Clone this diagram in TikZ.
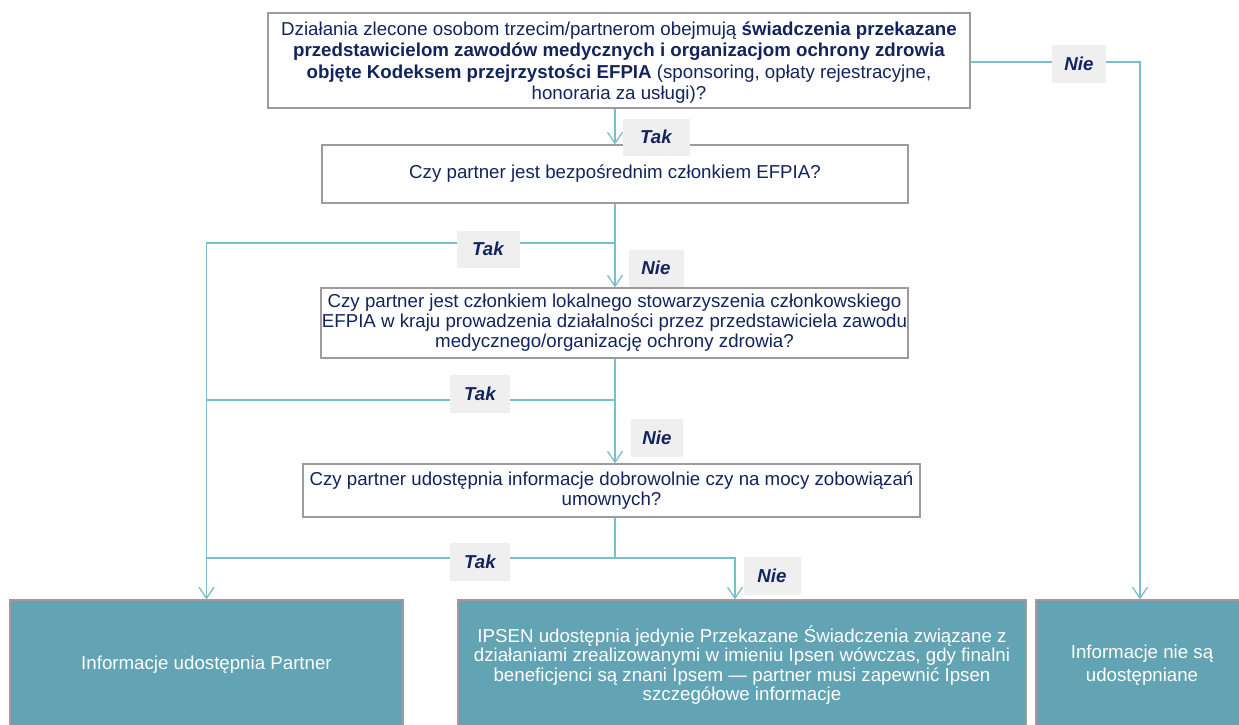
\documentclass[tikz,border=0pt]{standalone}
\usepackage{fontspec}
\setmainfont{Liberation Sans}
\usetikzlibrary{arrows.meta}
\definecolor{navy}{RGB}{18,36,94}
\definecolor{lnk}{RGB}{120,190,204}
\definecolor{bord}{RGB}{160,154,154}
\definecolor{teal}{RGB}{98,163,180}
\definecolor{lbl}{RGB}{239,239,239}
\begin{document}
\begin{tikzpicture}[x=1pt,y=-1pt,
  qbox/.style={draw=bord,line width=1.3pt,fill=white,text=navy,align=center,inner sep=0pt,font=\fontsize{18.7}{20}\selectfont},
  rbox/.style={draw=bord,line width=1.3pt,fill=teal,text=white,align=center,inner sep=0pt,font=\fontsize{18.7}{19.5}\selectfont},
  lab/.style={fill=lbl,text=navy,inner sep=0pt,font=\fontsize{18.7}{20}\selectfont\bfseries\itshape},
  link/.style={draw=lnk,line width=1.5pt},
  arr/.style={link,-{Straight Barb[length=11pt,width=15pt,line width=1.3pt]}}]
\useasboundingbox (0,0) rectangle (1239,724);
% question boxes
\node[qbox,minimum width=702,minimum height=95,font=\fontsize{18.7}{21.5}\selectfont,text depth=0pt] (b1) at (619,60.5)
 {Działania zlecone osobom trzecim/partnerom obejmują \textbf{świadczenia przekazane}\\
  \textbf{przedstawicielom zawodów medycznych i organizacjom ochrony zdrowia}\\
  \textbf{objęte Kodeksem przejrzystości EFPIA} (sponsoring, opłaty rejestracyjne,\\
  honoraria za usługi)?};
\node[qbox,minimum width=586,minimum height=58] (b2) at (615,174)
 {Czy partner jest bezpośrednim członkiem EFPIA?};
\node[qbox,minimum width=587,minimum height=70] (b3) at (614.5,323)
 {Czy partner jest członkiem lokalnego stowarzyszenia członkowskiego\\
  EFPIA w kraju prowadzenia działalności przez przedstawiciela zawodu\\
  medycznego/organizację ochrony zdrowia?};
\node[qbox,minimum width=617,minimum height=53] (b4) at (611.5,490.5)
 {Czy partner udostępnia informacje dobrowolnie czy na mocy zobowiązań\\
  umownych?};
% result boxes
\node[rbox,minimum width=393,minimum height=130] (b5) at (206.5,665)
 {Informacje udostępnia Partner};
\node[rbox,minimum width=568,minimum height=130] (b6) at (742,665)
 {IPSEN udostępnia jedynie Przekazane Świadczenia związane z\\
  działaniami zrealizowanymi w imieniu Ipsen wówczas, gdy finalni\\
  beneficjenci są znani Ipsem — partner musi zapewnić Ipsen\\
  szczegółowe informacje};
\node[rbox,minimum width=212,minimum height=130,font=\fontsize{18.7}{22.5}\selectfont] (b7) at (1142,665)
 {Informacje nie są\\ udostępniane};
% junctions
\coordinate (j1) at (615,243);
\coordinate (j2) at (615,400);
\coordinate (j3) at (615,558);
\coordinate (j4) at (735,558);
\coordinate (j5) at (1140,62);
% connectors
\draw[arr] (b1.south -| 615,0) -- (b2.north -| 615,0);
\draw[link] (b2.south -| 615,0) -- (j1);
\draw[arr] (j1) -- (b3.north -| 615,0);
\draw[arr] (j1) -| (b5.north);
\draw[link] (b3.south -| 615,0) -- (j2);
\draw[arr] (j2) -- (b4.north -| 615,0);
\draw[link] (j2) -- (j2 -| b5.north);
\draw[link] (b4.south -| 615,0) -- (j3);
\draw[link] (j3) -- (j3 -| b5.north);
\draw[arr] (j3) -| (b6.north -| j4);
\draw[arr] (b1.east |- j5) -- (j5) -- (b7.north -| j5);
% labels
\node[lab,minimum width=67,minimum height=37] (t1) at (656,137) {Tak};
\node[lab,minimum width=63,minimum height=37] (t2) at (488,249) {Tak};
\node[lab,minimum width=55,minimum height=37] (n1) at (656,268) {Nie};
\node[lab,minimum width=60,minimum height=38] (t3) at (480,394) {Tak};
\node[lab,minimum width=52,minimum height=38] (n2) at (657,438) {Nie};
\node[lab,minimum width=60,minimum height=38] (t4) at (480,562) {Tak};
\node[lab,minimum width=57,minimum height=38] (n3) at (772,576) {Nie};
\node[lab,minimum width=54,minimum height=38] (n4) at (1079,64) {Nie};
\end{tikzpicture}
\end{document}
